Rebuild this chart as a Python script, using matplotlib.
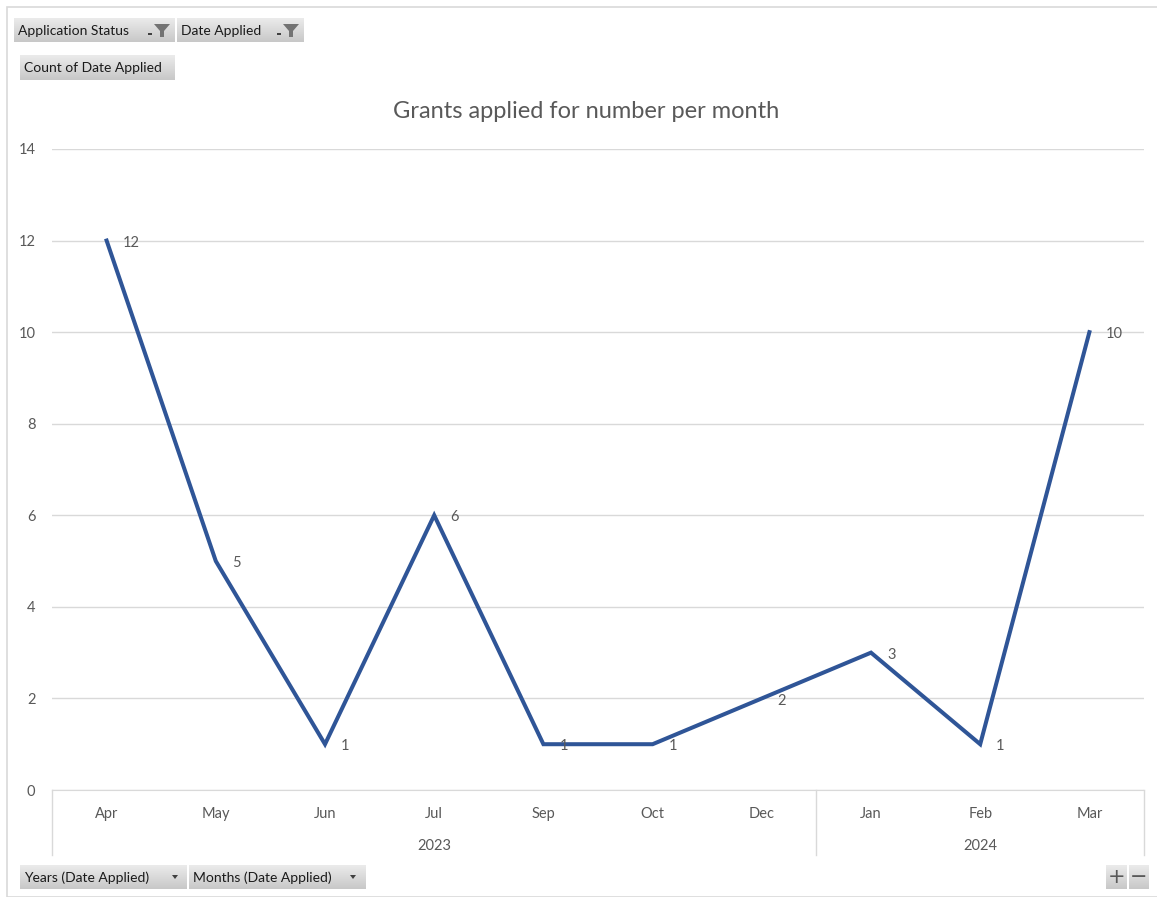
import matplotlib
matplotlib.use("Agg")
import numpy as np
import matplotlib.pyplot as plt
from matplotlib.patches import Rectangle, Polygon
import matplotlib.transforms as mtransforms

months = ["Apr", "May", "Jun", "Jul", "Sep", "Oct", "Dec", "Jan", "Feb", "Mar"]
years = ["2023", "2023", "2023", "2023", "2023", "2023", "2023", "2024", "2024", "2024"]
counts = [12, 5, 1, 6, 1, 1, 2, 3, 1, 10]
yticks = [0, 2, 4, 6, 8, 10, 12, 14]
title = "Grants applied for number per month"

W, H = 1157, 897
plt.rcParams["font.family"] = ["Lato", "DejaVu Sans"]
txt = "#595959"
grid = "#d9d9d9"

fig = plt.figure(figsize=(W / 100, H / 100), dpi=100)


def fx(x):
    return x / W


def fy(y):
    return 1 - y / H


ax = fig.add_axes([fx(52), fy(790), fx(1144) - fx(52), fy(149) - fy(790)])
x = list(range(len(months)))
ax.plot(x, counts, color="#2f5597", lw=2.9, solid_joinstyle="miter", zorder=3)
for xi, v in zip(x, counts):
    ax.annotate(str(v), (xi, v), xytext=(11.5, -1.5), textcoords="offset points",
                ha="left", va="center", fontsize=10.5, color=txt)

ax.set_xlim(-0.5, len(months) - 0.5)
ax.set_ylim(0, 14)
ax.set_yticks(yticks)
ax.grid(axis="y", color=grid, lw=1)
ax.set_axisbelow(True)
ax.tick_params(axis="y", length=0, pad=12, labelsize=10.5, labelcolor=txt)
for lab in ax.get_yticklabels():
    lab.set_y(lab.get_position()[1])
ax.tick_params(axis="x", length=0, labelbottom=False)
for s in ["top", "right", "left"]:
    ax.spines[s].set_visible(False)
ax.spines["bottom"].set_color(grid)

# two-level category axis
tr = mtransforms.blended_transform_factory(ax.transData, ax.transAxes)
for xi, m in zip(x, months):
    ax.text(xi, -0.037, m, transform=tr, ha="center", va="center",
            fontsize=10.5, color=txt, clip_on=False)
bounds = [0]
for i in range(1, len(years)):
    if years[i] != years[i - 1]:
        bounds.append(i)
bounds.append(len(years))
for b in bounds:
    ax.plot([b - 0.5, b - 0.5], [0, -0.101], transform=tr, color=grid,
            lw=1, clip_on=False)
for a, b in zip(bounds[:-1], bounds[1:]):
    ax.text((a + b - 1) / 2, -0.087, years[a], transform=tr, ha="center",
            va="center", fontsize=10.5, color=txt, clip_on=False)

fig.text(fx(586), fy(112), title, ha="center", va="center", fontsize=17,
         color=txt)

# outer frame
fig.add_artist(Rectangle((fx(7), fy(897)), fx(1160), fy(7) - fy(897),
                         transform=fig.transFigure, fill=False,
                         ec="#d9d9d9", lw=1.2))

grad = np.linspace(0, 1, 32).reshape(-1, 1)


def box(x0, y0, x1, y1):
    bax = fig.add_axes([fx(x0), fy(y1), fx(x1 - x0), fy(y0) - fy(y1)])
    bax.imshow(grad, aspect="auto", cmap=matplotlib.colors.LinearSegmentedColormap.from_list(
        "btn", ["#ebebeb", "#c8c8c8"]), extent=(0, 1, 0, 1), origin="upper")
    bax.set_axis_off()


def button(x0, y0, x1, y1, label, icon=None):
    box(x0, y0, x1, y1)
    cy = (y0 + y1) / 2
    fig.text(fx(x0 + 4), fy(cy + 1), label, ha="left", va="center",
             fontsize=10, color="#1a1a1a")
    if icon == "filter":
        fig.add_artist(Polygon([(fx(x1 - 21), fy(cy - 6)), (fx(x1 - 5), fy(cy - 6)),
                                (fx(x1 - 11), fy(cy + 1)), (fx(x1 - 11), fy(cy + 7)),
                                (fx(x1 - 15), fy(cy + 7)), (fx(x1 - 15), fy(cy + 1))],
                               closed=True, transform=fig.transFigure,
                               fc="#737373", ec="none"))
        fig.add_artist(Rectangle((fx(x1 - 27), fy(cy + 5)), fx(4), fy(0) - fy(2),
                                 transform=fig.transFigure, fc="#404040", ec="none"))
    elif icon == "drop":
        fig.add_artist(Polygon([(fx(x1 - 15), fy(cy - 2)), (fx(x1 - 9), fy(cy - 2)),
                                (fx(x1 - 12), fy(cy + 2))], closed=True,
                               transform=fig.transFigure, fc="#404040", ec="none"))


button(14, 18, 175, 42, "Application Status", "filter")
button(177, 18, 304, 42, "Date Applied", "filter")
button(20, 55, 175, 80, "Count of Date Applied")
button(20, 865, 187, 889, "Years (Date Applied)", "drop")
button(189, 865, 365, 889, "Months (Date Applied)", "drop")
for x0, x1, s in [(1106, 1127, "+"), (1129, 1149, "\u2212")]:
    box(x0, 865, x1, 889)
    fig.text(fx((x0 + x1) / 2), fy(877), s, ha="center", va="center",
             fontsize=15, color="#595959", family="DejaVu Sans")

fig.savefig("out.png", dpi=100)
